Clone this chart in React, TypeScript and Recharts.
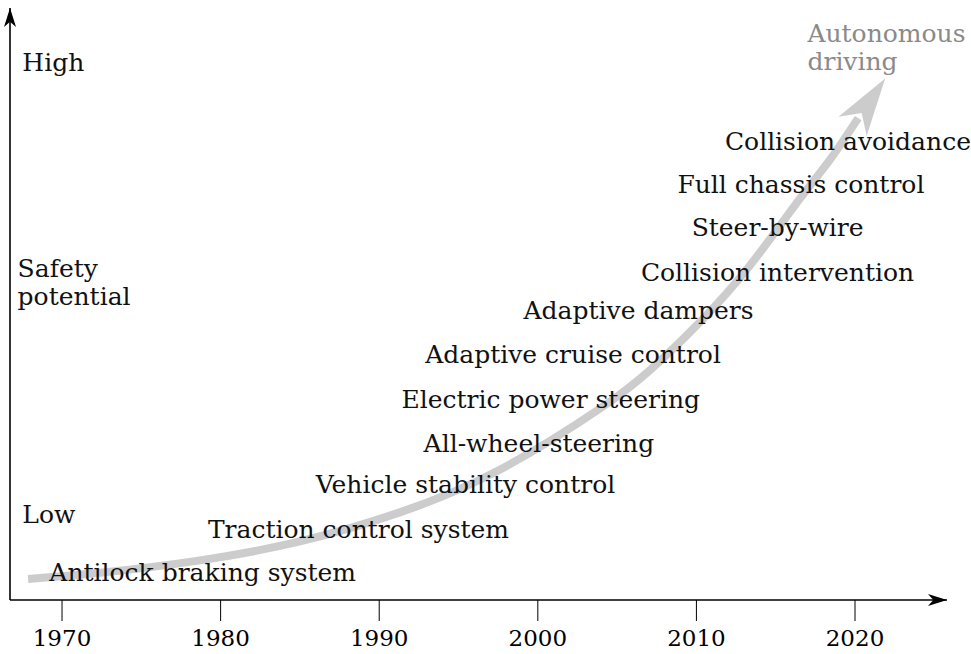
import { ComposedChart, Line, XAxis, YAxis, ReferenceDot, ReferenceLine } from "recharts";

// curve of safety potential over the years
const curveYears = [1967.86, 1972.4, 1978.7, 1985.0, 1991.3, 1997.6, 2003.9, 2007.1, 2010.2, 2013.4, 2016.5, 2018.4, 2020.2];
const curveLevels = [3.55, 4.6, 6.7, 9.9, 14.8, 22.0, 32.3, 38.9, 46.9, 56.6, 67.7, 74.3, 81.4];

// systems placed along the curve
const systemNames = [
  "Antilock braking system",
  "Traction control system",
  "Vehicle stability control",
  "All-wheel-steering",
  "Electric power steering",
  "Adaptive cruise control",
  "Adaptive dampers",
  "Collision intervention",
  "Steer-by-wire",
  "Full chassis control",
  "Collision avoidance",
];
const systemYears = [1969.2, 1979.2, 1986.0, 1992.8, 1991.4, 1992.9, 1999.1, 2006.5, 2009.7, 2008.8, 2011.8];
const systemLevels = [3.2, 10.5, 18.0, 25.0, 32.4, 40.0, 47.5, 53.9, 61.5, 68.8, 76.0];

// goal at the arrow tip
const goalLines = ["Autonomous", "driving"];
const goalYear = 2017.0;
const goalLevels = [94.3, 89.5];

// y axis wording
const axisWords = ["High", "Safety", "potential", "Low"];
const axisWordYears = [1967.5, 1967.2, 1967.2, 1967.5];
const axisWordLevels = [89.4, 54.6, 49.8, 13.0];

const yearTicks = [1970, 1980, 1990, 2000, 2010, 2020];
const xMin = 1966.72;
const xMax = 2025.8;

const data = curveYears.map((year, i) => ({ year, potential: curveLevels[i] }));

const FONT = "'DejaVu Serif', serif";
const CURVE = "#cccccc";

const drawText = (text: string, color: string) => (props: any) => (
  <text x={props.cx} y={props.cy} fontFamily={FONT} fontSize={25} fill={color}>
    {text}
  </text>
);

// stealth style arrow head, tip at (x, y), pointing along (dx, dy)
function arrowHead(x: number, y: number, dx: number, dy: number, len: number, half: number, color: string) {
  const n = Math.hypot(dx, dy) || 1;
  const ux = dx / n;
  const uy = dy / n;
  const px = -uy;
  const py = ux;
  const bx = x - ux * len;
  const by = y - uy * len;
  const nx = x - ux * len * 0.72;
  const ny = y - uy * len * 0.72;
  const pts = [
    [x, y],
    [bx + px * half, by + py * half],
    [nx, ny],
    [bx - px * half, by - py * half],
  ];
  return <polygon points={pts.map((p) => p.join(",")).join(" ")} fill={color} />;
}

// remember dot positions so the last one can point along the curve
const seen: { x: number; y: number }[] = [];
const curveDot = (props: any) => {
  const { cx, cy, index } = props;
  seen[index] = { x: cx, y: cy };
  if (index !== data.length - 1) return <g key={index} />;
  const prev = seen[index - 1] || { x: cx - 1, y: cy + 1 };
  const dx = cx - prev.x;
  const dy = cy - prev.y;
  const n = Math.hypot(dx, dy) || 1;
  const tipX = cx + (dx / n) * 48;
  const tipY = cy + (dy / n) * 48;
  return <g key={index}>{arrowHead(tipX, tipY, dx, dy, 58, 17, CURVE)}</g>;
};

export default function App() {
  return (
    <div style={{ position: "absolute", left: 0, top: 0, background: "#fff" }}>
      <ComposedChart width={971} height={654} data={data} margin={{ top: 8, right: 24, left: 10, bottom: 0 }}>
        <XAxis
          type="number"
          dataKey="year"
          domain={[xMin, xMax]}
          allowDataOverflow
          ticks={yearTicks}
          height={54}
          tickSize={21}
          tickMargin={9}
          axisLine={{ stroke: "#000", strokeWidth: 1.6 }}
          tickLine={{ stroke: "#000", strokeWidth: 1 }}
          tick={{ fill: "#000", fontFamily: FONT, fontSize: 23 }}
        />
        <YAxis type="number" domain={[0, 100]} allowDataOverflow hide />
        <ReferenceLine x={xMin} stroke="#000" strokeWidth={1.6} ifOverflow="visible" />
        <Line
          type="natural"
          dataKey="potential"
          stroke={CURVE}
          strokeWidth={8}
          dot={curveDot}
          activeDot={false}
          isAnimationActive={false}
        />
        <ReferenceDot
          x={xMax}
          y={0}
          ifOverflow="visible"
          shape={(p: any) => arrowHead(p.cx, p.cy, 1, 0, 19, 6, "#000")}
        />
        <ReferenceDot
          x={xMin}
          y={100}
          ifOverflow="visible"
          shape={(p: any) => arrowHead(p.cx, p.cy, 0, -1, 19, 6, "#000")}
        />
        {axisWords.map((w, i) => (
          <ReferenceDot key={w} x={axisWordYears[i]} y={axisWordLevels[i]} ifOverflow="visible" shape={drawText(w, "#111")} />
        ))}
        {systemNames.map((name, i) => (
          <ReferenceDot key={name} x={systemYears[i]} y={systemLevels[i]} ifOverflow="visible" shape={drawText(name, "#111")} />
        ))}
        {goalLines.map((g, i) => (
          <ReferenceDot key={g} x={goalYear} y={goalLevels[i]} ifOverflow="visible" shape={drawText(g, "#8a8a8a")} />
        ))}
      </ComposedChart>
    </div>
  );
}
